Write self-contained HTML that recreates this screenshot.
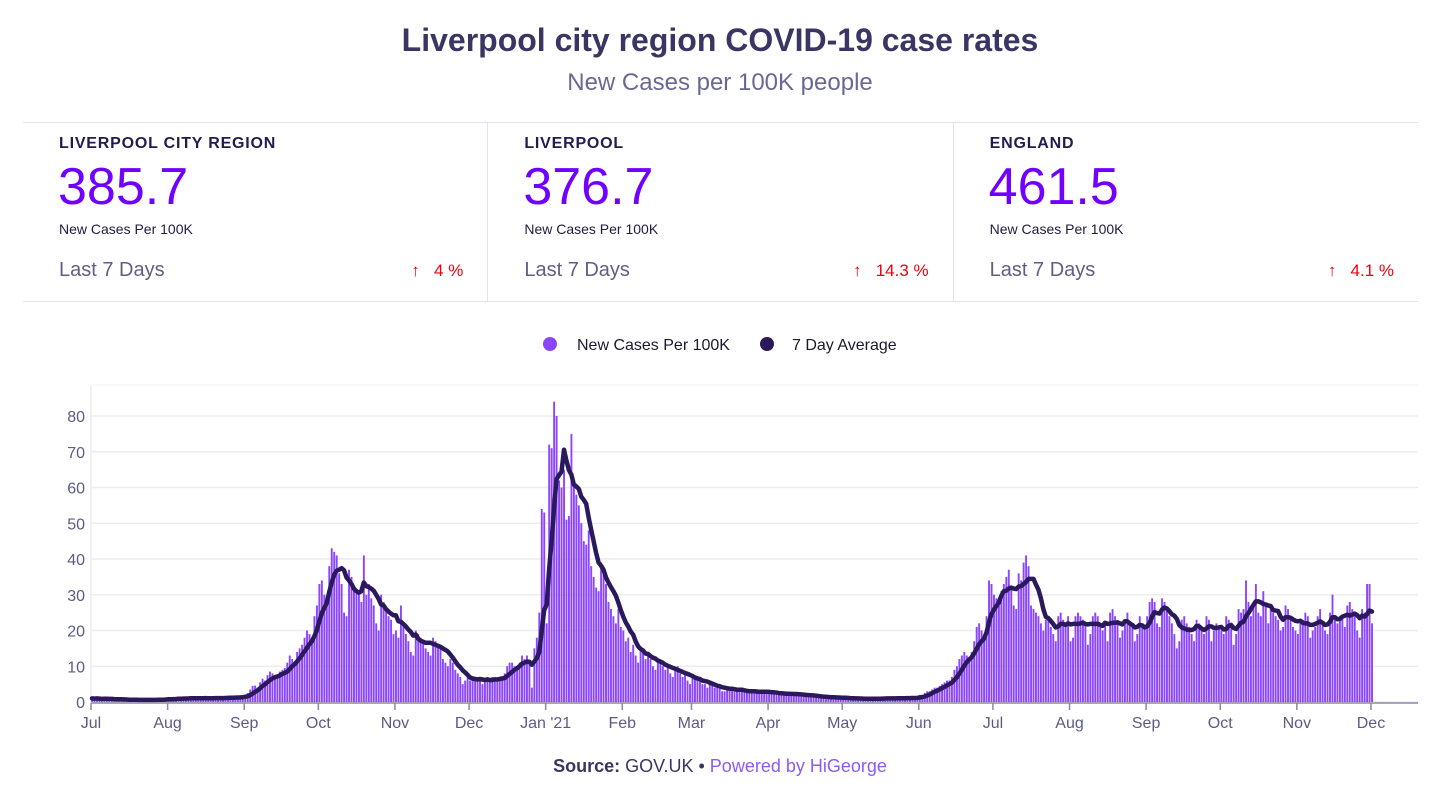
<!DOCTYPE html>
<html><head><meta charset="utf-8">
<style>
body{margin:0;width:1440px;height:786px;background:#fff;font-family:"Liberation Sans",sans-serif;overflow:hidden;position:relative}
.t{position:absolute;left:0;width:1440px;text-align:center}
#title{top:22px;font-size:32px;font-weight:bold;color:#3a3563}
#sub{top:69px;font-size:24px;color:#6a6894}
#stats{position:absolute;left:23px;top:122px;width:1395px;height:178px;border-top:1px solid #dde3f2;border-bottom:1px solid #dde3f2;display:flex}
.card{flex:1;position:relative;border-right:1px solid #dde3f2}
.card:last-child{border-right:none}
.lab{position:absolute;left:36px;top:12px;font-size:16px;font-weight:bold;letter-spacing:0.8px;color:#221c50}
.num{position:absolute;left:35px;top:34px;font-size:52px;color:#7000ff}
.small{position:absolute;left:36px;top:98px;font-size:14px;color:#1f1c40}
.l7{position:absolute;left:36px;top:136px;font-size:20px;color:#5f5f85}
.pct{position:absolute;right:24px;top:138px;font-size:17px;color:#ee0011}
#foot{top:756px;font-size:18px;color:#3a3563}
</style></head><body>
<div id="title" class="t">Liverpool city region COVID-19 case rates</div>
<div id="sub" class="t">New Cases per 100K people</div>
<div id="stats">
 <div class="card">
  <div class="lab">LIVERPOOL CITY REGION</div>
  <div class="num">385.7</div>
  <div class="small">New Cases Per 100K</div>
  <div class="l7">Last 7 Days</div>
  <div class="pct">↑&nbsp;&nbsp;&nbsp;4 %</div>
 </div>
 <div class="card">
  <div class="lab">LIVERPOOL</div>
  <div class="num">376.7</div>
  <div class="small">New Cases Per 100K</div>
  <div class="l7">Last 7 Days</div>
  <div class="pct">↑&nbsp;&nbsp;&nbsp;14.3 %</div>
 </div>
 <div class="card">
  <div class="lab">ENGLAND</div>
  <div class="num">461.5</div>
  <div class="small">New Cases Per 100K</div>
  <div class="l7">Last 7 Days</div>
  <div class="pct">↑&nbsp;&nbsp;&nbsp;4.1 %</div>
 </div>
</div>
<svg id="chart" width="1440" height="786" style="position:absolute;left:0;top:0"></svg>
<div id="foot" class="t"><b>Source:</b> GOV.UK • <span style="color:#8a5cf6">Powered by HiGeorge</span></div>
<script>
const m2020jul=[1.0,0.9,1.1,0.8,0.6,0.9,1.0,0.8,0.9,0.7,0.6,0.5,0.7,0.8,0.6,0.7,0.6,0.5,0.4,0.6,0.7,0.6,0.7,0.6,0.5,0.5,0.6,0.8,0.7,0.8,0.9];
const m2020aug=[0.9,0.7,0.8,1.0,1.1,1.0,1.2,1.0,0.8,1.1,1.2,1.1,1.0,1.2,1.1,0.9,1.0,1.1,1.2,1.1,1.3,1.0,0.9,1.2,1.3,1.4,1.3,1.5,1.2,1.1,1.6];
const m2020sep=[2.0,2.5,3.5,4.5,4.6,4.0,5.5,6.5,6.0,7.5,8.5,8.0,6.5,7.0,8.5,9.0,9.5,11,13,12,11,14,15,16,18,20,19,17,24,27];
const m2020oct=[33,34,30,29,38,43,42,41,36,33,25,24,37,35,32,31,30,28,41,30,33,29,27,22,20,30,28,26,24,23,19];
const m2020nov=[20,18,27,22,19,17,14,13,20,19,18,17,15,14,13,18,17,16,15,12,11,10,12,11,9,8,7,5,6,7];
const m2020dec=[6,7,7,6,6,5,6,7,6,7,7,6,6,7,8,10,11,11,10,9,11,13,12,13,11,4,15,18,25,54,53];
const m2021jan=[22,72,71,84,80,62,60,65,51,52,75,61,58,55,50,45,44,48,38,35,32,31,39,36,33,28,26,24,22,26,21];
const m2021feb=[20,17,18,14,16,13,11,15,14,12,13,12,10,9,11,12,10,9,10,8,7,9,10,8,7,8,6,5];
const m2021mar=[7,7,6,6,5,5,4,5,5,4,4,4,3,3,4,4,4,3,3,3,3,3,3,3,3,3,2.5,2.5,3,3,3];
const m2021apr=[2.7,2.5,2.2,2.0,2.1,2.5,2.6,2.4,2.3,2.0,1.8,2.0,2.2,2.1,2.0,1.8,1.6,1.5,1.7,1.6,1.5,1.4,1.3,1.2,1.1,1.3,1.4,1.3,1.2,1.1];
const m2021may=[1.1,1.0,0.9,0.9,1.0,1.1,1.0,0.9,0.8,0.8,0.9,1.0,1.1,1.0,0.9,0.8,1.0,1.1,1.2,1.1,1.0,0.9,0.9,1.1,1.2,1.3,1.2,1.1,1.0,1.0,1.2];
const m2021jun=[2,2,2.5,3,3,3.5,4,4,4.5,5,5.5,6,6,7,9,10,12,13,14,13,12,14,17,21,22,20,18,24,34,33];
const m2021jul=[30,29,27,31,33,35,37,32,27,26,36,34,39,41,38,27,26,25,24,22,20,23,24,21,19,17,24,25,23,22,24];
const m2021aug=[17,18,24,25,24,23,22,16,19,24,25,24,21,20,22,17,25,26,24,22,18,20,23,25,22,21,17,19,24,22,21];
const m2021sep=[24,28,29,28,22,21,29,28,26,24,22,19,15,17,23,24,22,21,19,17,23,22,20,19,24,23,17,20,22,21];
const m2021oct=[20,19,24,23,22,16,19,26,25,26,34,28,24,27,33,25,24,31,27,22,26,25,24,23,20,21,27,26,24,21,20];
const m2021nov=[19,22,23,25,24,18,20,21,24,26,22,20,19,25,30,24,22,23,24,21,27,28,26,24,20,18,26,25,33,33];
const m2021dec=[22];
const yTicks=[0,10,20,30,40,50,60,70,80];
const xTickLabels=["Jul","Aug","Sep","Oct","Nov","Dec","Jan '21","Feb","Mar","Apr","May","Jun","Jul","Aug","Sep","Oct","Nov","Dec"];
const xTickDays=[0,31,62,92,123,153,184,215,243,274,304,335,365,396,427,457,488,518];
const newCases=[].concat(m2020jul,m2020aug,m2020sep,m2020oct,m2020nov,m2020dec,m2021jan,m2021feb,m2021mar,m2021apr,m2021may,m2021jun,m2021jul,m2021aug,m2021sep,m2021oct,m2021nov,m2021dec);

const NS="http://www.w3.org/2000/svg";
const svg=document.getElementById('chart');
const L=91,R=1418,T=385,B=702;
const x=d=>L+d*2.471+1;
const y=v=>B-v*3.575;
function mk(t,a){const e=document.createElementNS(NS,t);for(const k in a)e.setAttribute(k,a[k]);svg.appendChild(e);return e;}
for(const v of yTicks){
 const g=mk('line',{x1:L,x2:R,y1:y(v),y2:y(v),stroke:'#ececf2','stroke-width':1.5});
 
 
 const t=mk('text',{x:L-6,y:y(v)+6,'text-anchor':'end','font-size':16,fill:'#5b5b85'});
 t.textContent=v;
 
 
}
const bl=mk('line',{x1:L,x2:L,y1:T,y2:B,stroke:'#ececf2','stroke-width':1.5});


const tl=mk('line',{x1:L,x2:R,y1:T,y2:T,stroke:'#f3f3f6','stroke-width':1});


newCases.forEach((v,i)=>{
 const r=mk('rect',{x:x(i)-0.9,y:y(v),width:1.9,height:B-y(v),fill:'#8b45ff'});
 
 
});
let pts=[];
newCases.forEach((v,i)=>{const s=newCases.slice(Math.max(0,i-6),i+1);const a=s.reduce((p,c)=>p+c,0)/s.length;pts.push(x(i).toFixed(1)+','+y(a).toFixed(1));});
const ln=mk('polyline',{points:pts.join(' '),fill:'none',stroke:'#2a1a5c','stroke-width':4.5,'stroke-linejoin':'round','stroke-linecap':'round'});


const ax=mk('line',{x1:L,x2:R,y1:B+1,y2:B+1,stroke:'#8a89a8','stroke-width':1.5});


xTickDays.forEach((d,i)=>{
 const tk=mk('line',{x1:x(d)-1,x2:x(d)-1,y1:B+1,y2:B+8,stroke:'#8a89a8','stroke-width':1.5});
 
 
 const t=mk('text',{x:x(d)-1,y:B+26,'text-anchor':'middle','font-size':16,fill:'#5b5b85'});
 t.textContent=xTickLabels[i];
 
 
});
const c1=mk('circle',{cx:550,cy:344,r:7,fill:'#8b45ff'});


const t1=mk('text',{x:577,y:350,'font-size':16,fill:'#1a1a2e'});t1.textContent='New Cases Per 100K';


const c2=mk('circle',{cx:767,cy:344,r:7,fill:'#2a1a5c'});


const t2=mk('text',{x:792,y:350,'font-size':16,fill:'#1a1a2e'});t2.textContent='7 Day Average';


</script>
</body></html>
